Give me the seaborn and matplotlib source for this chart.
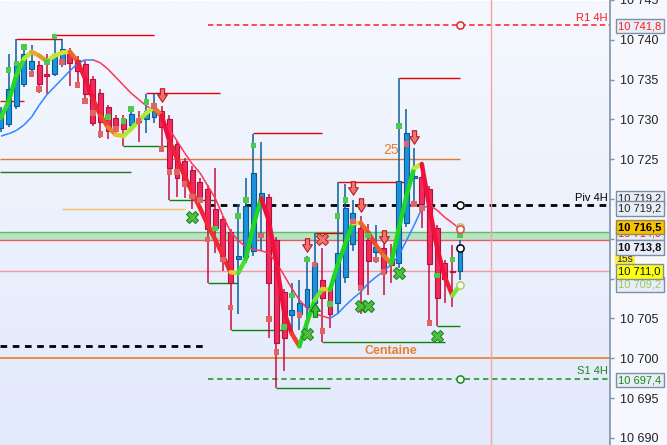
import numpy as np
import matplotlib
matplotlib.use("Agg")
import matplotlib.pyplot as plt
import matplotlib.transforms as mtransforms
import seaborn as sns
from matplotlib.collections import LineCollection
from matplotlib.colors import LinearSegmentedColormap, Normalize
from matplotlib.path import Path

# ---- candles (oldest first) ----
opens = [10728.9, 10729.4, 10731.7, 10734.5, 10736.3, 10736.8, 10735.7, 10735.7, 10737.0, 10738.2,
         10737.5, 10737.0, 10735.1, 10733.3, 10731.5, 10730.2, 10730.1, 10729.3, 10730.0, 10730.1,
         10730.3, 10731.1, 10730.0, 10726.9, 10724.8, 10723.7, 10722.2, 10721.3, 10718.7, 10717.5,
         10715.8, 10712.5, 10712.7, 10713.5, 10719.8, 10720.2, 10714.8, 10708.3, 10705.4, 10705.6,
         10706.4, 10707.0, 10709.8, 10708.8, 10707.0, 10710.2, 10714.4, 10716.4, 10714.8, 10713.4,
         10713.8, 10712.5, 10711.9, 10717.0, 10722.7, 10722.8, 10721.2, 10716.3, 10712.0, 10710.9,
         10710.9]
highs = [10731.6, 10738.2, 10740.1, 10739.4, 10739.4, 10737.3, 10738.2, 10740.5, 10740.1, 10739.0,
         10738.0, 10737.3, 10735.5, 10733.8, 10731.8, 10730.6, 10730.5, 10731.3, 10731.1, 10733.2,
         10733.3, 10731.7, 10730.5, 10727.3, 10725.2, 10724.2, 10722.6, 10721.7, 10723.9, 10717.9,
         10716.2, 10719.4, 10722.7, 10728.2, 10727.2, 10720.6, 10715.2, 10708.7, 10709.5, 10709.8,
         10712.8, 10715.7, 10713.8, 10709.2, 10722.1, 10721.9, 10719.9, 10717.9, 10716.9, 10716.7,
         10714.3, 10714.4, 10735.2, 10731.3, 10726.4, 10723.2, 10721.6, 10716.7, 10712.4, 10714.2,
         10714.8]
lows = [10728.4, 10729.1, 10731.3, 10734.1, 10735.8, 10733.3, 10733.2, 10735.5, 10736.6, 10734.2,
        10734.3, 10732.6, 10729.2, 10727.7, 10727.6, 10728.1, 10726.7, 10728.6, 10727.1, 10728.3,
        10729.5, 10726.7, 10719.9, 10720.2, 10720.1, 10718.8, 10719.8, 10709.4, 10713.2, 10711.0,
        10703.5, 10705.6, 10712.0, 10712.9, 10713.5, 10702.5, 10696.2, 10698.4, 10703.5, 10703.5,
        10703.5, 10706.3, 10702.0, 10703.8, 10705.6, 10709.5, 10713.5, 10705.6, 10707.9, 10712.0,
        10707.9, 10709.4, 10711.3, 10716.5, 10719.4, 10716.4, 10704.4, 10704.0, 10706.9, 10706.4,
        10709.8]
closes = [10730.7, 10733.8, 10737.1, 10738.2, 10737.3, 10734.5, 10735.5, 10738.2, 10738.9, 10737.1,
          10736.1, 10733.2, 10729.6, 10729.7, 10728.6, 10729.0, 10728.8, 10730.7, 10729.7, 10731.1,
          10731.3, 10729.0, 10723.9, 10722.7, 10722.3, 10720.2, 10720.2, 10716.2, 10716.4, 10712.3,
          10709.4, 10712.9, 10719.1, 10723.3, 10720.7, 10709.4, 10701.9, 10702.5, 10706.1, 10706.9,
          10708.7, 10712.0, 10707.6, 10705.6, 10713.2, 10718.9, 10718.2, 10708.9, 10712.2, 10714.0,
          10710.7, 10711.7, 10722.3, 10728.3, 10722.9, 10719.4, 10711.8, 10707.6, 10710.0, 10710.8,
          10713.8]

# fast (thick, coloured) and slow (thin) averages
fast_ma = [10730.2, 10732.3, 10735.5, 10737.6, 10738.5, 10738.0, 10737.3, 10738.0, 10738.4, 10738.5,
           10737.3, 10735.1, 10732.6, 10730.5, 10729.0, 10728.1, 10727.9, 10728.8, 10729.8, 10730.8,
           10731.5, 10730.5, 10727.3, 10725.1, 10722.9, 10720.8, 10718.9, 10716.8, 10714.9, 10712.9,
           10710.8, 10710.7, 10712.5, 10716.7, 10720.1, 10717.3, 10712.0, 10705.8, 10703.1, 10701.5,
           10704.5, 10707.3, 10708.7, 10708.6, 10711.7, 10714.4, 10717.0, 10717.0, 10715.8, 10714.2,
           10712.9, 10711.9, 10716.3, 10720.4, 10723.9, 10724.4, 10718.9, 10713.9, 10710.2, 10707.9,
           10709.2]
slow_ma = [10727.9, 10728.2, 10728.6, 10729.3, 10730.3, 10731.8, 10733.1, 10734.1, 10735.1, 10736.1,
           10737.0, 10737.5, 10737.5, 10737.1, 10736.3, 10735.3, 10734.3, 10733.3, 10732.5, 10731.7,
           10731.1, 10730.1, 10728.8, 10727.3, 10725.8, 10724.4, 10723.3, 10721.7, 10720.1, 10717.9,
           10715.9, 10714.8, 10714.0, 10713.7, 10713.5, 10713.2, 10712.0, 10710.4, 10708.8, 10707.3,
           10706.3, 10705.6, 10705.3, 10705.0, 10705.6, 10706.6, 10707.5, 10708.3, 10709.4, 10710.2,
           10710.9, 10711.8, 10712.9, 10714.8, 10716.7, 10718.8, 10719.2, 10718.6, 10717.7, 10717.0,
           10716.2]

# signal markers (bar index, price)
green_sq_x = [1, 2, 3, 6, 7, 14, 16, 17, 19, 28, 31, 32, 33, 37, 38, 40, 43, 44, 45, 48, 52, 57, 59, 60]
green_sq_y = [10736.2, 10737.0, 10739.1, 10737.2, 10740.4, 10730.3, 10729.8, 10731.3, 10732.2, 10716.3,
              10717.9, 10719.9, 10726.7, 10703.9, 10707.9, 10712.4, 10706.8, 10717.9, 10719.9, 10715.4,
              10729.2, 10710.4, 10712.4, 10715.4]
red_sq_x = [4, 5, 8, 10, 11, 12, 13, 15, 18, 20, 21, 22, 23, 24, 25, 26, 27, 29, 30, 34, 35, 36, 39,
            41, 42, 46, 47, 49, 50, 53, 54, 55, 56]
red_sq_y = [10735.7, 10733.8, 10737.2, 10734.3, 10732.3, 10730.8, 10728.2, 10728.8, 10729.8, 10731.7,
            10726.3, 10723.4, 10723.4, 10721.9, 10720.3, 10719.9, 10714.9, 10712.4, 10706.4, 10715.4,
            10704.9, 10700.8, 10705.4, 10711.8, 10703.4, 10717.2, 10708.8, 10712.4, 10710.8, 10726.9,
            10719.4, 10718.9, 10704.4]
sell_arrow_x = [21, 40, 46, 47, 50, 54]
sell_arrow_y = [10733.1, 10714.2, 10721.4, 10719.3, 10715.2, 10727.8]
buy_arrow_x = [41]
buy_arrow_y = [10706.1]
red_cross_x = [42]
red_cross_y = [10715.0]
green_cross_x = [25, 40, 47, 48, 52, 57]
green_cross_y = [10717.7, 10703.1, 10706.5, 10706.5, 10710.7, 10702.8]

# swing highs / lows: (start bar, end bar, level)
res_steps = [(2, 8, 10740.1), (7, 20, 10740.6), (19, 28.6, 10733.3), (33, 42, 10728.3),
             (41, 45, 10715.7), (44, 53, 10722.2), (52, 60, 10735.2)]
sup_steps = [(16, 23, 10726.7), (22, 28, 10719.9), (27, 31, 10709.4), (30, 37, 10703.5),
             (36, 43, 10696.2), (42, 58, 10702.0), (57, 60, 10704.0)]

# levels
r1_4h = 10741.8
piv_4h = 10719.2
s1_4h = 10697.4
old_dash = 10701.5
zone = (10714.9, 10715.9)
pink_level = 10711.0
centaine = 10700.0
level_25 = 10725.0
green_old = 10723.4
orange_old = 10718.7
red_old = 10732.3

y_ticks = [10690, 10695, 10700, 10705, 10710, 10715, 10720, 10725, 10730, 10735, 10740, 10745]

# ---------------------------------------------------------------
sns.set_theme(style="white")
plt.rcParams["font.family"] = ["Liberation Sans", "DejaVu Sans"]

W, H = 667, 445
fig = plt.figure(figsize=(W / 100, H / 100), dpi=100, facecolor="#f6f8fe")
ax = fig.add_axes([0, 0, 610 / W, 1])

x0, x1 = -0.13, 79.6
y0, y1 = 10689.1, 10744.86

bg = LinearSegmentedColormap.from_list("bg", ["#f5f8fe", "#e2e9fb"])
ax.imshow(np.linspace(0, 1, 256).reshape(-1, 1), cmap=bg, aspect="auto",
          extent=[x0, x1, y0, y1], origin="upper", zorder=0)

n = len(opens)
xs = np.arange(n)
o = np.array(opens); c = np.array(closes); hi = np.array(highs); lo = np.array(lows)
fa = np.array(fast_ma); sl = np.array(slow_ma)

# background levels
ax.axhspan(zone[0], zone[1], color="#b9e3c2", zorder=1, lw=0)
ax.axhline(zone[1], color="#58c060", lw=1, zorder=1.1)
ax.axhline(zone[0], color="#e06060", lw=1, zorder=1.1)
ax.axhline(pink_level, color="#f29a9a", lw=1, zorder=1.1)
ax.axhline(centaine, color="#e87518", lw=1.1, zorder=1.1)
ax.hlines(level_25, x0, 60, color="#e07a30", lw=1, zorder=1.1)
ax.hlines(green_old, x0, 17, color="#1f7a1f", lw=1, zorder=1.1)
ax.hlines(orange_old, 8, 24, color="#f4c264", lw=1, zorder=1.1)
ax.hlines(red_old, x0, 3, color="#e81010", lw=1, zorder=1.1)
ax.hlines(old_dash, x0, 26.4, color="black", lw=2, linestyles=(0, (2.4, 2.0)), zorder=1.2)
ax.hlines(r1_4h, 27, x1, color="#ff1a1a", lw=1.1, linestyles=(0, (3.5, 2.2)), zorder=1.2)
ax.hlines(piv_4h, 27, x1, color="black", lw=2, linestyles=(0, (2.4, 2.0)), zorder=1.2)
ax.hlines(s1_4h, 27, x1, color="#1a8a1a", lw=1.1, linestyles=(0, (3.5, 2.5)), zorder=1.2)
ax.axvline(64, color="#f4a2a2", lw=1, zorder=1.2)

for a, b, lvl in res_steps:
    ax.hlines(lvl, a, b, color="#e40000", lw=1, zorder=2)
for a, b, lvl in sup_steps:
    ax.hlines(lvl, a, b, color="#0e820e", lw=1, zorder=2)

# candles
up = c >= o
wick_col = np.where(up, "#0b5e9c", "#c80f3c")
ax.vlines(xs, lo, hi, colors=wick_col, lw=1.1, zorder=3)
body_low = np.minimum(o, c)
body_h = np.maximum(np.abs(c - o), 0.15)
ax.bar(xs, body_h, bottom=body_low, width=0.64,
       color=np.where(up, "#1d92da", "#f22a5c"),
       edgecolor=np.where(up, "#0a5a98", "#b3103e"), linewidth=0.8, zorder=4)

# slow average, blue when rising, red when falling
seg = np.stack([np.column_stack([xs[:-1], sl[:-1]]), np.column_stack([xs[1:], sl[1:]])], axis=1)
slow_cols = np.where(np.diff(sl) >= 0, "#2f86ff", "#ff3358")
ax.add_collection(LineCollection(seg, colors=slow_cols, linewidths=1.1, zorder=5))

# fast average, coloured by slope
trend = LinearSegmentedColormap.from_list(
    "trend", ["#f0103c", "#f03a30", "#e8882a", "#e6d830", "#b8ec30", "#50e030", "#20d820"])
seg = np.stack([np.column_stack([xs[:-1], fa[:-1]]), np.column_stack([xs[1:], fa[1:]])], axis=1)
fast_cols = trend(Normalize(-2.5, 2.5)(np.diff(fa)))
ax.add_collection(LineCollection(seg, colors=fast_cols, linewidths=3.2, capstyle="round",
                                 joinstyle="round", zorder=6))

# markers
sns.scatterplot(x=green_sq_x, y=green_sq_y, marker="s", s=16, color="#4ec94e",
                edgecolor="none", ax=ax, zorder=7)
sns.scatterplot(x=red_sq_x, y=red_sq_y, marker="s", s=16, color="#e06464",
                edgecolor="none", ax=ax, zorder=7)

down_arrow = Path([(-0.28, 0.9), (0.28, 0.9), (0.28, 0.1), (0.65, 0.1), (0, -0.9),
                   (-0.65, 0.1), (-0.28, 0.1), (-0.28, 0.9)], closed=True)
up_arrow = Path([(-0.28, -0.9), (0.28, -0.9), (0.28, -0.1), (0.65, -0.1), (0, 0.9),
                 (-0.65, -0.1), (-0.28, -0.1), (-0.28, -0.9)], closed=True)
ax.scatter(sell_arrow_x, sell_arrow_y, marker=down_arrow, s=95, color="#f07272",
           edgecolor="#b81c1c", linewidth=0.8, zorder=8)
ax.scatter(buy_arrow_x, buy_arrow_y, marker=up_arrow, s=95, color="#3cbf3c",
           edgecolor="#137a13", linewidth=0.8, zorder=8)
sns.scatterplot(x=green_cross_x, y=green_cross_y, marker="X", s=75, color="#47c23a",
                edgecolor="#1f7d1f", linewidth=0.7, ax=ax, zorder=8)
sns.scatterplot(x=red_cross_x, y=red_cross_y, marker="X", s=75, color="#f07272",
                edgecolor="#b81c1c", linewidth=0.7, ax=ax, zorder=8)

# end-of-line circles
last = n - 1
for val, ec in [(r1_4h, "#e82020"), (piv_4h, "black"), (fa[-1] + 7.3, "#9ad05a"),
                (sl[-1], "#ff3358"), (c[-1], "black"), (fa[-1], "#a8d060"), (s1_4h, "#1a8a1a")]:
    ax.plot(last, val, "o", ms=5.2, mfc="white", mec=ec, mew=1.1, zorder=9)

# level captions
ax.text(79.3, r1_4h + 0.35, "R1 4H", color="#ff1a1a", fontsize=8, ha="right", va="bottom", zorder=9)
ax.text(79.3, piv_4h + 0.35, "Piv 4H", color="black", fontsize=8, ha="right", va="bottom", zorder=9)
ax.text(79.3, s1_4h + 0.35, "S1 4H", color="#1a8a1a", fontsize=8, ha="right", va="bottom", zorder=9)
ax.text(51, level_25 + 0.3, "25", color="#e8802c", fontsize=10, ha="center", va="bottom", zorder=9)
ax.text(51, centaine + 0.2, "Centaine", color="#e8802c", fontsize=9, fontweight="bold",
        ha="center", va="bottom", zorder=9)

# axes
ax.set_xlim(x0, x1)
ax.set_ylim(y0, y1)
ax.set_xticks([])
ax.set_yticks(y_ticks)
ax.set_yticklabels([f"{t:,}".replace(",", " ") for t in y_ticks])
for lab in ax.get_yticklabels():
    if lab.get_text() == "10 700":
        lab.set_fontweight("bold")
ax.tick_params(axis="y", left=False, labelleft=False, right=True, labelright=True,
               direction="out", length=3, width=1, pad=4, colors="#7f93a8",
               labelcolor="#222222", labelsize=9)
for side in ["top", "left", "bottom"]:
    ax.spines[side].set_visible(False)
ax.spines["right"].set_color("#7f93a8")
ax.spines["right"].set_linewidth(1.2)

# price boxes on the scale
tr = mtransforms.blended_transform_factory(fig.transFigure, ax.transData)
bx = 618.5 / W


def price_box(y, text, fc, tc, weight="normal", z=10, ec="#7d8fa6"):
    ax.text(bx, y, text, transform=tr, color=tc, fontsize=8, fontweight=weight,
            ha="left", va="center", zorder=z, clip_on=False,
            bbox=dict(boxstyle="square,pad=0.2", fc=fc, ec=ec, lw=1))


price_box(10741.8 - 0.1, "10 741,8", "#e8eef8", "#ff1a1a")
price_box(10720.05, "10 719,2", "#e8eef8", "#222222", z=10)
price_box(10718.8, "10 719,2", "#e8eef8", "#222222", z=11)
price_box(10715.7, "10 714,9", "#e8eef8", "#e02020", z=11)
price_box(10716.45, "10 716,5", "#f6c200", "black", weight="bold", z=12, ec="#9a8a50")
price_box(10713.9, "10 713,8", "#e8eef8", "#111111", weight="bold", z=11)
ax.text(bx - 0.003, 10712.41, "15s", transform=tr, color="#222222", fontsize=7.5,
        ha="left", va="center", zorder=10, clip_on=False,
        bbox=dict(boxstyle="square,pad=0.15", fc="#ffee40", ec="none"))
price_box(10710.9, "10 711,0", "#ffff10", "#111111", z=12)
price_box(10709.27, "10 709,2", "#e8eef8", "#98c860", z=11)
price_box(10697.4 - 0.15, "10 697,4", "#e8eef8", "#1a8a1a")

fig.savefig("out.png", dpi=100, facecolor=fig.get_facecolor())
